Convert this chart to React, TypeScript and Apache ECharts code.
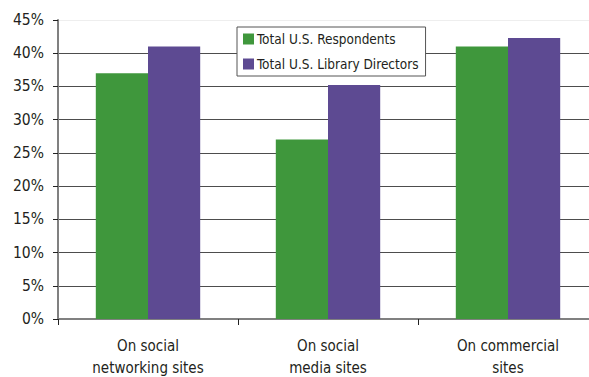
import React, { useEffect, useRef } from "react";
import * as echarts from "echarts";

const categories = ["On social\nnetworking sites", "On social\nmedia sites", "On commercial\nsites"];
const seriesNames = ["Total U.S. Respondents", "Total U.S. Library Directors"];
const respondents = [37, 27, 41];
const directors = [41, 35.2, 42.3];
const yTicks = { min: 0, max: 45, interval: 5 };
const colors = ["#3f973c", "#5d4a92"];

const FONT = "'Liberation Sans Narrow', 'DejaVu Sans Condensed', 'Roboto Condensed', sans-serif";

export default function App() {
  const ref = useRef<HTMLDivElement>(null);
  useEffect(() => {
    if (!ref.current) return;
    const chart = echarts.init(ref.current, undefined, { renderer: "svg" });
    const gridColors = Array.from({ length: 10 }, (_, i) => (i === 9 ? "#eeeeee" : "#4d4d4d"));
    chart.setOption({
      animation: false,
      backgroundColor: "#ffffff",
      textStyle: { fontFamily: FONT, color: "#231f20" },
      grid: { left: 58, top: 20, bottom: 58, right: 22, containLabel: false, outerBoundsMode: "none" },
      legend: {
        data: seriesNames,
        orient: "vertical",
        left: 237,
        top: 27,
        itemWidth: 11,
        itemHeight: 11,
        itemGap: 11,
        padding: [5, 7, 5, 6],
        borderColor: "#555555",
        borderWidth: 1,
        backgroundColor: "#ffffff",
        icon: "rect",
        textStyle: { fontFamily: FONT, fontSize: 13.5, color: "#231f20", padding: [0, 0, 0, -2] },
      },
      xAxis: {
        type: "category",
        data: categories,
        axisLine: { show: true, lineStyle: { color: "#808080", width: 2 } },
        axisTick: { show: true, alignWithLabel: false, length: 6, lineStyle: { color: "#222222" } },
        axisLabel: { fontFamily: FONT, fontSize: 15, color: "#231f20", lineHeight: 22, margin: 16 },
        splitLine: { show: false },
      },
      yAxis: {
        type: "value",
        min: yTicks.min,
        max: yTicks.max,
        interval: yTicks.interval,
        axisLine: { show: true, lineStyle: { color: "#808080", width: 2 } },
        axisTick: { show: true, length: 5, lineStyle: { color: "#222222" } },
        axisLabel: { formatter: "{value}%", fontFamily: FONT, fontSize: 15.5, color: "#231f20", margin: 14 },
        splitLine: { show: true, lineStyle: { color: gridColors, width: 1 } },
      },
      series: [
        {
          name: seriesNames[0],
          type: "bar",
          data: respondents,
          itemStyle: { color: colors[0] },
          barGap: "0%",
          barCategoryGap: "42%",
        },
        {
          name: seriesNames[1],
          type: "bar",
          data: directors,
          itemStyle: { color: colors[1] },
          barGap: "0%",
          barCategoryGap: "42%",
        },
      ],
    });
    return () => chart.dispose();
  }, []);
  return (
    <div style={{ position: "fixed", left: 0, top: 0, width: 589, height: 377, overflow: "hidden", background: "#fff" }}>
      <div ref={ref} style={{ width: 620, height: 377 }} />
    </div>
  );
}
